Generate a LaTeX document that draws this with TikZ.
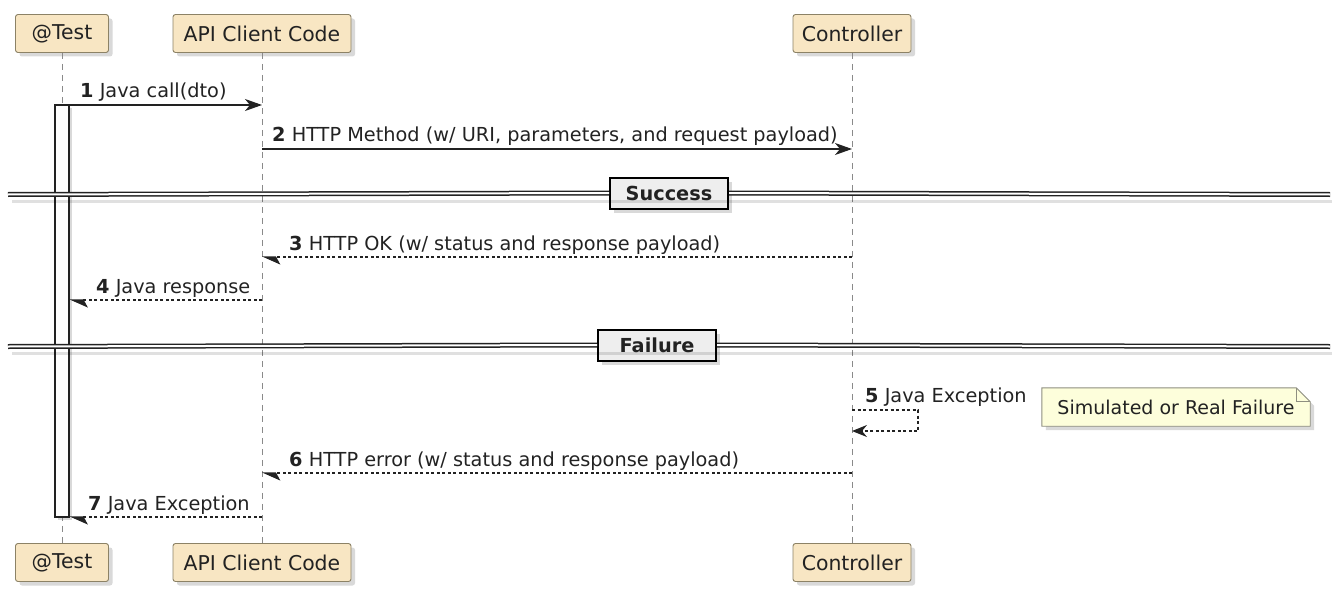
\documentclass[tikz,border=0pt]{standalone}
\usepackage{fontspec}
\setmainfont{DejaVu Sans}
\usetikzlibrary{arrows.meta, positioning, calc, shadows, backgrounds}
\definecolor{pfill}{HTML}{F8E6C3}
\definecolor{pdraw}{HTML}{8C8266}
\definecolor{nfill}{HTML}{FDFEDB}
\definecolor{ndraw}{HTML}{8E8E80}
\definecolor{sepfill}{HTML}{EEEEEE}
\definecolor{lgrey}{HTML}{8A8A8A}
\definecolor{ink}{HTML}{222222}
\tikzset{
  every picture/.style={x=1pt, y=-1pt},
  part/.style={draw=pdraw, fill=pfill, rounded corners=2.5pt, line width=0.9pt, minimum height=38pt, minimum width=#1,
    font=\fontsize{20.4}{24}\selectfont, text=ink, drop shadow={shadow xshift=4pt, shadow yshift=-4pt, opacity=0.3}},
  life/.style={draw=lgrey, dash pattern=on 6pt off 5pt, line width=0.9pt},
  msg/.style={draw=ink, line width=1.1pt, -{Stealth[length=17pt, width=12pt, inset=5pt]}},
  ret/.style={draw=ink, line width=1.1pt, dash pattern=on 3pt off 2.5pt, -{Stealth[harpoon, length=17pt, width=15pt, inset=4pt]}},
  selfret/.style={draw=ink, line width=1.1pt, dash pattern=on 3pt off 2.5pt, -{Stealth[length=15pt, width=12pt, inset=5pt]}},
  lbl/.style={anchor=base west, inner sep=0pt, font=\fontsize{19.3}{23}\selectfont, text=ink},
  act/.style={draw=ink, fill=white, line width=1.1pt, minimum width=14pt, minimum height=412pt,
    drop shadow={shadow xshift=3pt, shadow yshift=-3pt, opacity=0.3}},
  sep/.style={draw=ink, double=white, double distance=2pt, line width=1.5pt},
  sepshade/.style={draw=black, opacity=0.12, line width=3pt},
  sepbox/.style={draw=black, fill=sepfill, line width=2pt, font=\fontsize{19.3}{23}\selectfont\bfseries, text=ink,
    minimum width=118pt, minimum height=31pt, drop shadow={shadow xshift=4pt, shadow yshift=-4pt, opacity=0.3}},
  notetext/.style={font=\fontsize{19}{23}\selectfont, text=ink, minimum width=268pt, minimum height=38pt, inner sep=0pt},
}
\begin{document}
\begin{tikzpicture}
  \useasboundingbox (0,0) rectangle (1332,591);
  % participants and lifelines
  \foreach \n/\x/\w/\t in {test/62/93/@Test, cli/262/178/API Client Code, ctl/852/118/Controller} {
    \node[part=\w pt] (\n T) at (\x,33.5) {\t};
    \node[part=\w pt] (\n B) at (\x,562.5) {\t};
    \draw[life] (\n T) -- (\n B);
  }
  \node[act] (act) at (62,311) {};

  % call chain
  \draw[msg] (act.east |- 0,105) -- (cliT |- 0,105);
  \node[lbl] (l1) at (80,98) {\textbf{1} Java call(dto)};
  \draw[msg] (cliT |- 0,149) -- (ctlT |- 0,149);
  \node[lbl] (l2) at (272,142) {\textbf{2} HTTP Method (w/ URI, parameters, and request payload)};

  % success
  \node[sepbox] (succ) at (669,193) {Success};
  \draw[sepshade] (12,201) -- (1332,201);
  \draw[sep] (8,194.5) -- (succ.west);
  \draw[sep] (succ.east) -- (1330,194.5);
  \draw[ret] (ctlT |- 0,257) -- (cliT |- 0,257);
  \node[lbl] (l3) at (289,250) {\textbf{3} HTTP OK (w/ status and response payload)};
  \draw[ret] (cliT |- 0,300) -- (act.east |- 0,300);
  \node[lbl] (l4) at (96,293) {\textbf{4} Java response};

  % failure
  \node[sepbox] (fail) at (657,345) {Failure};
  \draw[sepshade] (12,353) -- (1332,353);
  \draw[sep] (8,346.5) -- (fail.west);
  \draw[sep] (fail.east) -- (1330,346.5);
  \draw[selfret] (ctlT |- 0,410) -| (918,431) -- (ctlT |- 0,431);
  \node[lbl] (l5) at (865,402) {\textbf{5} Java Exception};
  \node[notetext] (note) at (1176,407) {Simulated or Real Failure};
  \begin{scope}[on background layer]
    \filldraw[draw=ndraw, fill=nfill, line width=0.9pt, drop shadow={shadow xshift=4pt, shadow yshift=-4pt, opacity=0.3}]
      (note.north west) -- ($(note.north east)+(-14,0)$) -- ($(note.north east)+(0,14)$)
      -- (note.south east) -- (note.south west) -- cycle;
    \draw[draw=ndraw, line width=0.9pt] ($(note.north east)+(-14,0)$) |- ($(note.north east)+(0,14)$);
  \end{scope}
  \draw[ret] (ctlT |- 0,473) -- (cliT |- 0,473);
  \node[lbl] (l6) at (289,466) {\textbf{6} HTTP error (w/ status and response payload)};
  \draw[ret] (cliT |- 0,517) -- (act.east |- 0,517);
  \node[lbl] (l7) at (88,510) {\textbf{7} Java Exception};
\end{tikzpicture}
\end{document}
